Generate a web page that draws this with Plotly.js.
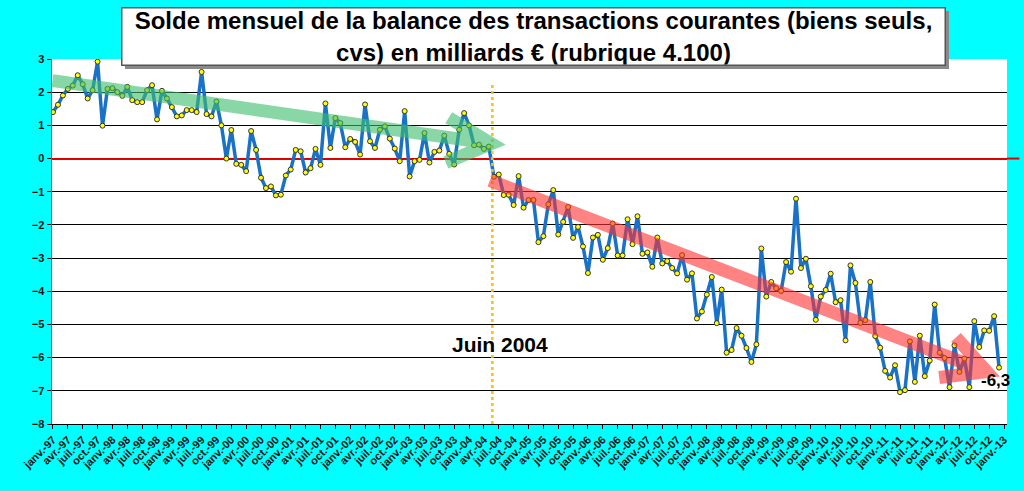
<!DOCTYPE html>
<html>
<head>
<meta charset="utf-8">
<script src="https://cdn.plot.ly/plotly-3.0.1.min.js"></script>
<style>
  body { margin: 0; background: #00ffff; }
  #plot { width: 1024px; height: 491px; }
</style>
</head>
<body>
<div id="plot"></div>
<script>
// Monthly balance, janv-97 .. déc-12 (billions €)
const solde = [
  1.40, 1.62, 1.90, 2.10, 2.20, 2.51, 2.24, 1.81, 2.06, 2.92, 0.99, 2.10,
  2.12, 2.00, 1.89, 2.16, 1.76, 1.70, 1.70, 2.06, 2.21, 1.18, 2.04, 1.81,
  1.55, 1.27, 1.30, 1.46, 1.46, 1.40, 2.61, 1.34, 1.27, 1.72, 1.00, 0.00,
  0.86, -0.16, -0.19, -0.38, 0.83, 0.26, -0.58, -0.89, -0.84, -1.11, -1.09, -0.51,
  -0.33, 0.26, 0.22, -0.42, -0.29, 0.29, -0.19, 1.66, 0.32, 1.22, 1.07, 0.34,
  0.59, 0.50, 0.12, 1.63, 0.52, 0.32, 0.87, 0.97, 0.60, 0.30, -0.08, 1.43,
  -0.54, -0.08, -0.04, 0.77, -0.12, 0.20, 0.24, 0.69, 0.14, -0.18, 0.87, 1.37,
  1.00, 0.40, 0.42, 0.29, 0.36, -0.55, -0.48, -1.10, -1.09, -1.40, -0.53, -1.48,
  -1.25, -1.25, -2.52, -2.34, -1.38, -0.95, -2.29, -1.91, -1.46, -2.39, -2.06, -2.65,
  -3.45, -2.38, -2.30, -3.05, -2.70, -1.96, -2.92, -2.92, -1.83, -2.58, -1.74, -2.87,
  -2.83, -3.26, -2.38, -3.16, -3.09, -3.30, -3.46, -2.91, -3.65, -3.46, -4.82, -4.61,
  -4.10, -3.57, -4.96, -3.95, -5.85, -5.77, -5.11, -5.34, -5.71, -6.13, -5.60, -2.71,
  -4.16, -3.72, -3.91, -3.99, -3.12, -3.41, -1.21, -3.30, -3.02, -3.85, -4.86, -4.16,
  -3.96, -3.47, -4.33, -4.27, -5.48, -3.22, -3.75, -4.95, -4.87, -3.72, -5.35, -5.70,
  -6.40, -6.60, -6.23, -7.04, -6.98, -5.51, -6.73, -5.34, -6.56, -6.09, -4.40, -5.85,
  -6.01, -6.89, -5.63, -6.43, -6.03, -6.89, -4.90, -5.68, -5.18, -5.19, -4.75, -6.30
];

// Quarterly tick labels janv.-97 .. janv.-13
const moisLabels = ["janv.", "avr.", "juil.", "oct."];
const annees = ["97","98","99","00","01","02","03","04","05","06","07","08","09","10","11","12","13"];

const yTicks = [3, 2, 1, 0, -1, -2, -3, -4, -5, -6, -7, -8];

// Trend arrows (month index, value)
const flecheVerte = { start: [-0.1, 2.35], tip: [88.5, 0.45], barbs: [[79.9, 1.23], [79.3, -0.12]] };
const flecheRouge = { start: [88.2, -0.66], tip: [188.5, -6.42], barbs: [[182.3, -5.39], [178.9, -6.60]] };
const juin2004 = 88.7;

let xIdx = solde.map((v, i) => i);

let tickvals = [];
let ticktext = [];
annees.forEach((a, k) => {
    moisLabels.forEach((m, j) => {
        if (a === "13" && j > 0) return;
        tickvals.push(k * 12 + j * 3);
        ticktext.push(m + "-" + a);
    });
});

function arrowPath(f) {
    return "M" + f.start[0] + "," + f.start[1] + " L" + f.tip[0] + "," + f.tip[1] +
        " M" + f.barbs[0][0] + "," + f.barbs[0][1] + " L" + f.tip[0] + "," + f.tip[1] +
        " L" + f.barbs[1][0] + "," + f.barbs[1][1];
}

const font = "Arial, 'Liberation Sans', sans-serif";

let trace = {
    x: xIdx,
    y: solde,
    type: "scatter",
    mode: "lines+markers",
    line: { color: "#1a72c6", width: 3.5 },
    marker: { color: "#ffff00", size: 5, line: { color: "#333", width: 1 } },
    hoverinfo: "skip"
};

let layout = {
    width: 1024,
    height: 491,
    margin: { l: 52, r: 17, t: 59, b: 67 },
    paper_bgcolor: "#00ffff",
    plot_bgcolor: "#ffffff",
    showlegend: false,
    font: { family: font, color: "#000" },
    xaxis: {
        range: [-0.2, 192.6],
        tickmode: "array",
        tickvals: tickvals,
        ticktext: ticktext,
        tickangle: -45,
        tickfont: { size: 11, family: font, weight: "bold", color: "#111" },
        ticks: "outside",
        ticklen: 4,
        tickcolor: "#000",
        showgrid: false,
        zeroline: false,
        showline: true,
        linecolor: "#000",
        linewidth: 1
    },
    yaxis: {
        range: [-8, 3],
        tickmode: "array",
        tickvals: yTicks,
        tickfont: { size: 11, family: font, weight: "bold", color: "#111" },
        ticks: "outside",
        ticklen: 4,
        tickcolor: "#000",
        showgrid: true,
        gridcolor: "#000",
        gridwidth: 1,
        zeroline: true,
        zerolinecolor: "#e00000",
        zerolinewidth: 2,
        showline: true,
        linecolor: "#666",
        linewidth: 1.5
    },
    shapes: [
        // zero line continues past the plot area on the right
        { type: "line", xref: "paper", yref: "y", x0: 1.0, x1: 1.013, y0: 0, y1: 0,
          line: { color: "#e00000", width: 2 }, layer: "above" },
        { type: "line", xref: "x", yref: "y", x0: juin2004, x1: juin2004, y0: -8, y1: 2.3,
          line: { color: "#ffc000", width: 2.5, dash: "dot" }, layer: "above" },
        { type: "path", xref: "x", yref: "y", path: arrowPath(flecheVerte),
          line: { color: "rgb(60,190,110)", width: 13 }, opacity: 0.6, layer: "above" },
        { type: "path", xref: "x", yref: "y", path: arrowPath(flecheRouge),
          line: { color: "rgb(255,50,50)", width: 13 }, opacity: 0.6, layer: "above" }
    ],
    annotations: [
        // title box shadow
        { xref: "paper", yref: "paper", x: 0.504, y: 1.063, xanchor: "center", yanchor: "middle",
          text: " ", showarrow: false,
          width: 822, height: 56, bgcolor: "#8a8a8a", borderwidth: 0, xshift: 4, yshift: -4 },
        { xref: "paper", yref: "paper", x: 0.504, y: 1.063, xanchor: "center", yanchor: "middle",
          showarrow: false,
          text: "Solde mensuel de la balance des transactions courantes (biens seuls,<br>cvs) en milliards € (rubrique 4.100)",
          font: { size: 24, family: font, weight: "bold", color: "#000" },
          width: 822, height: 56, bgcolor: "#ffffff", bordercolor: "#555", borderwidth: 1.5, borderpad: 0 },
        { xref: "x", yref: "y", x: 90.2, y: -5.61, text: "Juin 2004", showarrow: false,
          xanchor: "center", yanchor: "middle",
          font: { size: 21, family: font, weight: "bold", color: "#000" } },
        { xref: "x", yref: "y", x: 191, y: solde[solde.length - 1], text: "-6,3", showarrow: false,
          xanchor: "center", yanchor: "top", xshift: -4, yshift: -1,
          font: { size: 17, family: font, weight: "bold", color: "#000" } }
    ]
};

Plotly.newPlot("plot", [trace], layout, { staticPlot: true });
</script>
</body>
</html>
